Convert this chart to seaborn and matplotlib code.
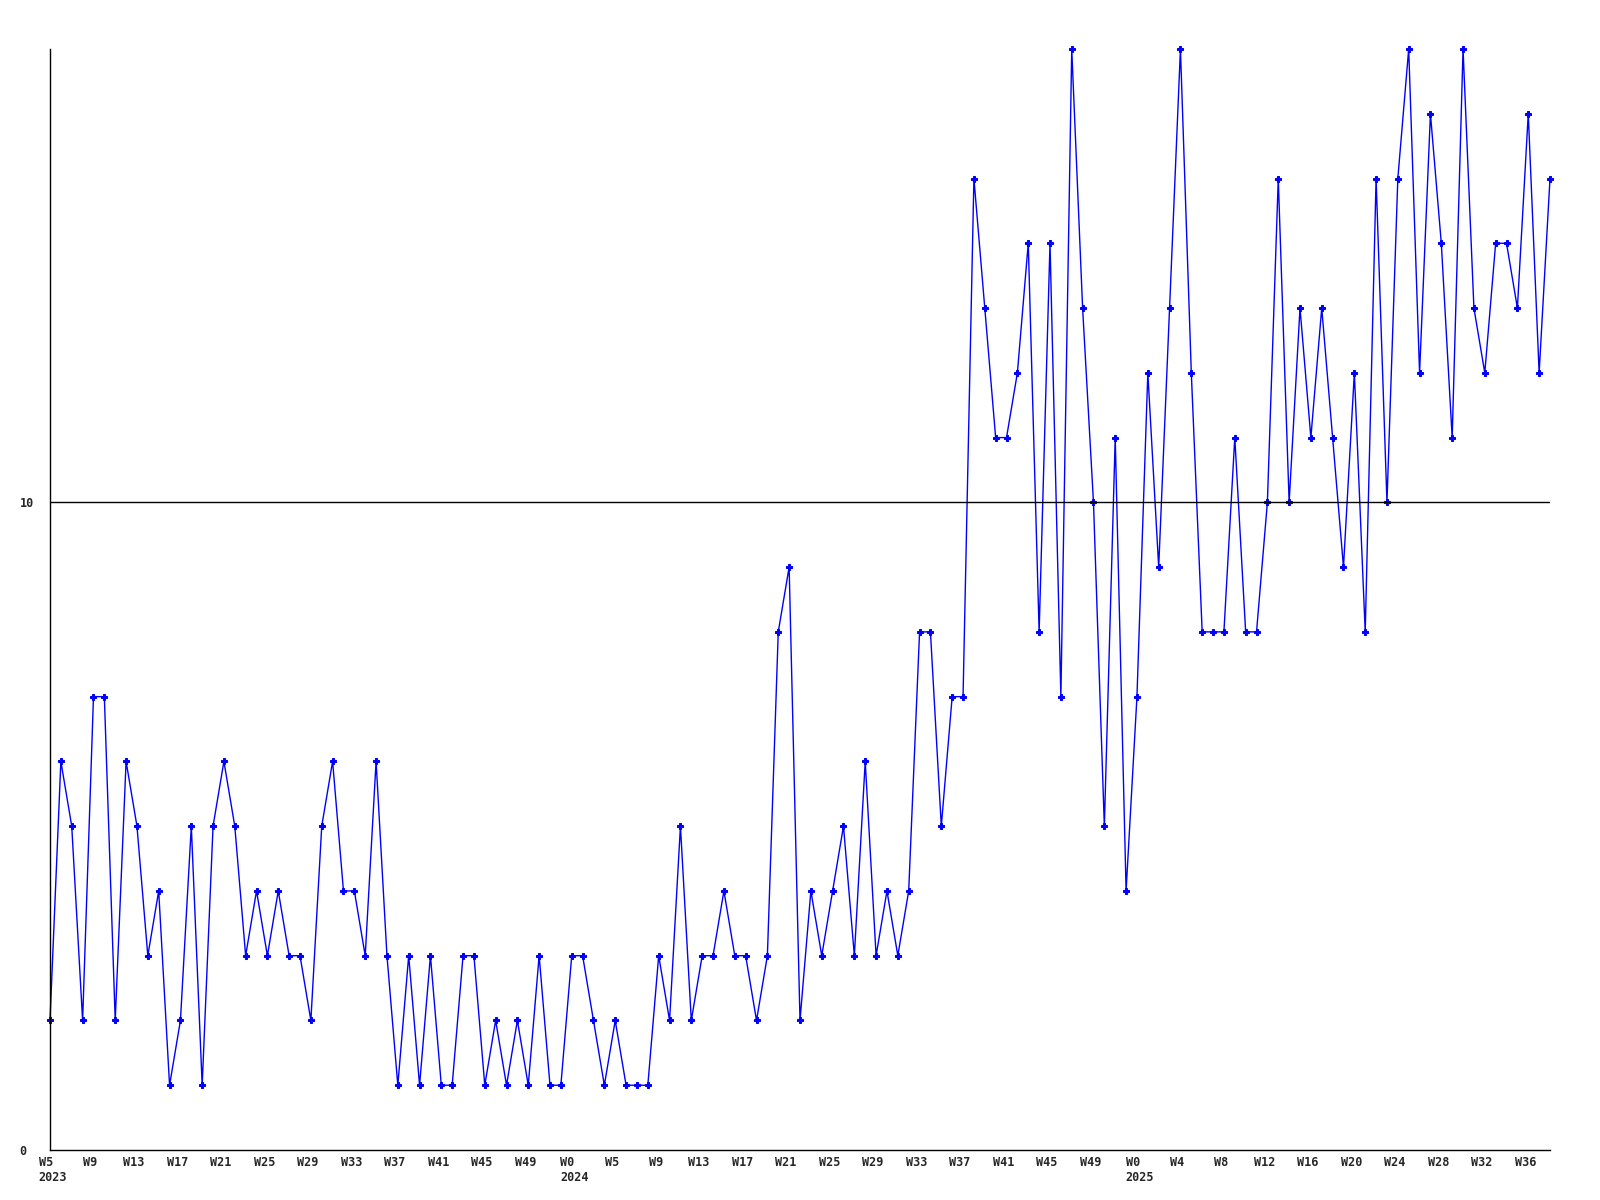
import matplotlib
matplotlib.use("Agg")
import matplotlib.pyplot as plt
import matplotlib.transforms as mtransforms
import seaborn as sns
import pandas as pd

values = [2, 6, 5, 2, 7, 7, 2, 6, 5, 3, 4, 1, 2, 5, 1, 5, 6, 5, 3, 4,
          3, 4, 3, 3, 2, 5, 6, 4, 4, 3, 6, 3, 1, 3, 1, 3, 1, 1, 3, 3,
          1, 2, 1, 2, 1, 3, 1, 1, 3, 3, 2, 1, 2, 1, 1, 1, 3, 2, 5, 2,
          3, 3, 4, 3, 3, 2, 3, 8, 9, 2, 4, 3, 4, 5, 3, 6, 3, 4, 3, 4,
          8, 8, 5, 7, 7, 15, 13, 11, 11, 12, 14, 8, 14, 7, 17, 13, 10, 5, 11, 4,
          7, 12, 9, 13, 17, 12, 8, 8, 8, 11, 8, 8, 10, 15, 10, 13, 11, 13, 11, 9,
          12, 8, 15, 10, 15, 17, 12, 16, 14, 11, 17, 13, 12, 14, 14, 13, 16, 12, 15]

tick_labels = ["W5\n2023", "W9", "W13", "W17", "W21", "W25", "W29", "W33", "W37",
               "W41", "W45", "W49",
               "W0\n2024", "W5", "W9", "W13", "W17", "W21", "W25", "W29", "W33",
               "W37", "W41", "W45", "W49",
               "W0\n2025", "W4", "W8", "W12", "W16", "W20", "W24", "W28", "W32", "W36"]
tick_every = 4

y_ticks = [0, 10]

df = pd.DataFrame({"idx": list(range(len(values))), "value": values})

sns.set_style("white")
plt.rcParams["font.family"] = ["DejaVu Sans Mono", "DejaVu Sans"]

fig = plt.figure(figsize=(16, 12), dpi=100)
ax = fig.add_axes([50 / 1600, 1 - 1150 / 1200, 1500 / 1600, 1101 / 1200])

sns.lineplot(data=df, x="idx", y="value", ax=ax, color="#0000FF", linewidth=1,
             marker="P", markersize=3.8, markeredgecolor="#0000FF",
             markerfacecolor="#0000FF", clip_on=False, zorder=2)

ax.axhline(10, color="black", linewidth=1, zorder=3)

ax.set_xlim(0, len(values) - 1)
ax.set_ylim(0, 17)

ax.set_xticks(list(range(0, len(values), tick_every))[:len(tick_labels)])
ax.set_xticklabels(tick_labels, fontsize=8.5, fontweight="bold",
                   multialignment="left")
ax.set_yticks(y_ticks)
ax.set_yticklabels([str(v) for v in y_ticks], fontsize=8.5, fontweight="bold")
for lab in ax.get_yticklabels():
    lab.set_ha("left")

ax.tick_params(axis="x", length=0, pad=4)
ax.tick_params(axis="y", length=0, pad=22)
shift = mtransforms.ScaledTranslation(-3 / 100, 0, fig.dpi_scale_trans)
for lab in ax.get_xticklabels():
    lab.set_va("top")
    if "\n" not in lab.get_text():
        lab.set_transform(lab.get_transform() + shift)
    else:
        lab.set_transform(lab.get_transform() +
                          mtransforms.ScaledTranslation(3 / 100, 0, fig.dpi_scale_trans))

ax.set_xlabel("")
ax.set_ylabel("")
ax.grid(False)
for s in ["top", "right"]:
    ax.spines[s].set_visible(False)
for s in ["left", "bottom"]:
    ax.spines[s].set_color("black")
    ax.spines[s].set_linewidth(1)

fig.savefig("out.png", dpi=100)
